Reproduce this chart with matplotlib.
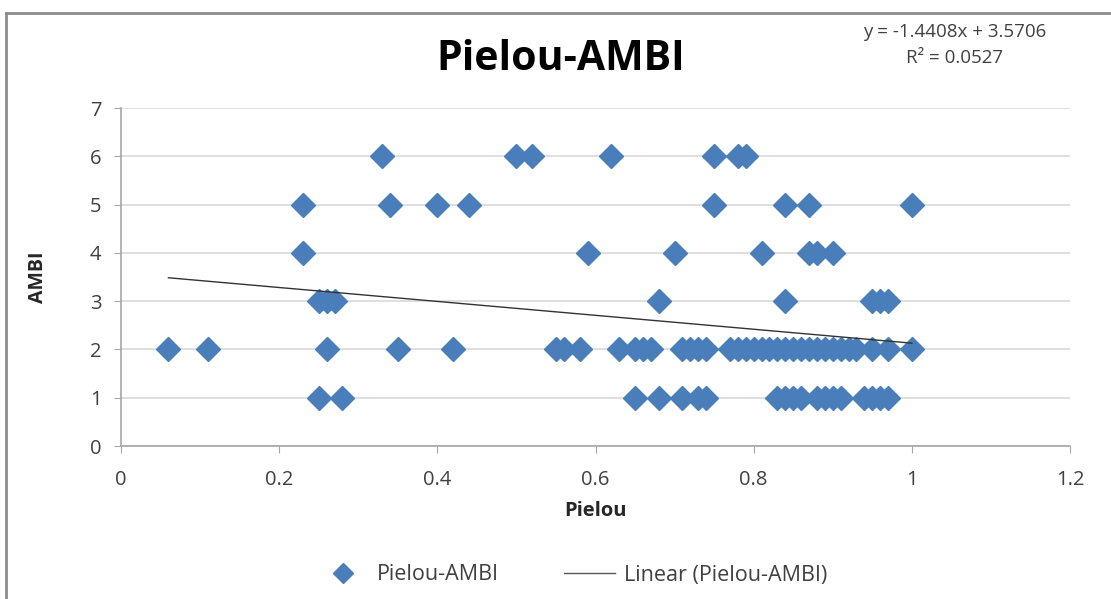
import matplotlib
matplotlib.use("Agg")
import matplotlib.pyplot as plt
from matplotlib.lines import Line2D

# ---- data ----
ambi6 = [0.33, 0.50, 0.52, 0.62, 0.75, 0.78, 0.79]
ambi5 = [0.23, 0.34, 0.40, 0.44, 0.75, 0.84, 0.87, 1.00]
ambi4 = [0.23, 0.59, 0.70, 0.81, 0.87, 0.88, 0.90]
ambi3 = [0.25, 0.26, 0.27, 0.68, 0.84, 0.95, 0.96, 0.97]
ambi2 = [0.06, 0.11, 0.26, 0.35, 0.42, 0.55, 0.56, 0.58, 0.63, 0.65, 0.66, 0.67,
         0.71, 0.72, 0.73, 0.74, 0.77, 0.78, 0.79, 0.80, 0.81, 0.82, 0.83, 0.84,
         0.85, 0.86, 0.87, 0.88, 0.89, 0.90, 0.91, 0.92, 0.93, 0.95, 0.97, 1.00]
ambi1 = [0.25, 0.28, 0.65, 0.68, 0.71, 0.73, 0.74, 0.83, 0.84, 0.85, 0.86,
         0.88, 0.89, 0.90, 0.91, 0.94, 0.95, 0.96, 0.97]

slope = -1.4408
intercept = 3.5706
r2 = 0.0527

x_ticks = [0, 0.2, 0.4, 0.6, 0.8, 1, 1.2]
x_tick_labels = ["0", "0.2", "0.4", "0.6", "0.8", "1", "1.2"]
y_ticks = [0, 1, 2, 3, 4, 5, 6, 7]

xs, ys = [], []
for val, row in [(6, ambi6), (5, ambi5), (4, ambi4), (3, ambi3), (2, ambi2), (1, ambi1)]:
    xs += row
    ys += [val] * len(row)

plt.rcParams['font.family'] = ['Open Sans', 'DejaVu Sans']

fig = plt.figure(figsize=(11.11, 5.99), dpi=100)
ax = fig.add_axes([121/1111, 1-446/599, (1070-121)/1111, (446-108)/599])

blue = '#4A7EBB'
ax.plot(xs, ys, linestyle='none', marker='D', markersize=12, color=blue,
        markeredgecolor=blue, zorder=3, label='Pielou-AMBI')
xmin, xmax = min(xs), max(xs)
ax.plot([xmin, xmax], [slope*xmin + intercept, slope*xmax + intercept],
        color='#333333', lw=1.0, zorder=4, label='Linear (Pielou-AMBI)')

ax.set_xlim(0, 1.2)
ax.set_ylim(0, 7)
ax.set_xticks(x_ticks)
ax.set_xticklabels(x_tick_labels)
ax.set_yticks(y_ticks)
ax.yaxis.grid(True, color='#D9D9D9', lw=1.2)
ax.set_axisbelow(True)
for s in ['top', 'right']:
    ax.spines[s].set_visible(False)
for s in ['left', 'bottom']:
    ax.spines[s].set_color('#A6A6A6')
    ax.spines[s].set_linewidth(1.2)
ax.tick_params(axis='both', direction='out', length=5, color='#A6A6A6',
               labelsize=14.5, labelcolor='#404040')
ax.tick_params(axis='x', pad=12)
ax.tick_params(axis='y', pad=9)

ax.set_xlabel('Pielou', fontsize=14.5, fontweight='bold', color='#262626', labelpad=8)
ax.set_ylabel('AMBI', fontsize=14, fontweight='bold', color='#262626', labelpad=30)

fig.text(561/1111, 1-60/599, 'Pielou-AMBI', fontsize=29.5, fontweight='bold',
         ha='center', va='center', color='#000000')
fig.text(955/1111, 1-32/599, 'y = -1.4408x + 3.5706', fontsize=13.5, ha='center',
         va='center', color='#404040')
fig.text(955/1111, 1-58/599, 'R² = 0.0527', fontsize=13.5, ha='center',
         va='center', color='#404040')

handles = [Line2D([], [], linestyle='none', marker='D', markersize=10, color=blue),
           Line2D([], [], color='#555555', lw=1.0)]
fig.legend(handles, ['Pielou-AMBI', 'Linear (Pielou-AMBI)'], loc='center',
           bbox_to_anchor=(572/1111, 1-575/599), ncol=2, frameon=False,
           fontsize=15.5, handlelength=2.4, handletextpad=0.4, columnspacing=3.0,
           labelcolor='#404040')

# chart frame
fig.add_artist(Line2D([6/1111, 1], [1-13/599, 1-13/599], color='#8C8C8C', lw=2.0,
                      transform=fig.transFigure))
fig.add_artist(Line2D([6/1111, 6/1111], [0, 1-13/599], color='#8C8C8C', lw=2.0,
                      transform=fig.transFigure))

fig.savefig('out.png', dpi=100, facecolor='white')
